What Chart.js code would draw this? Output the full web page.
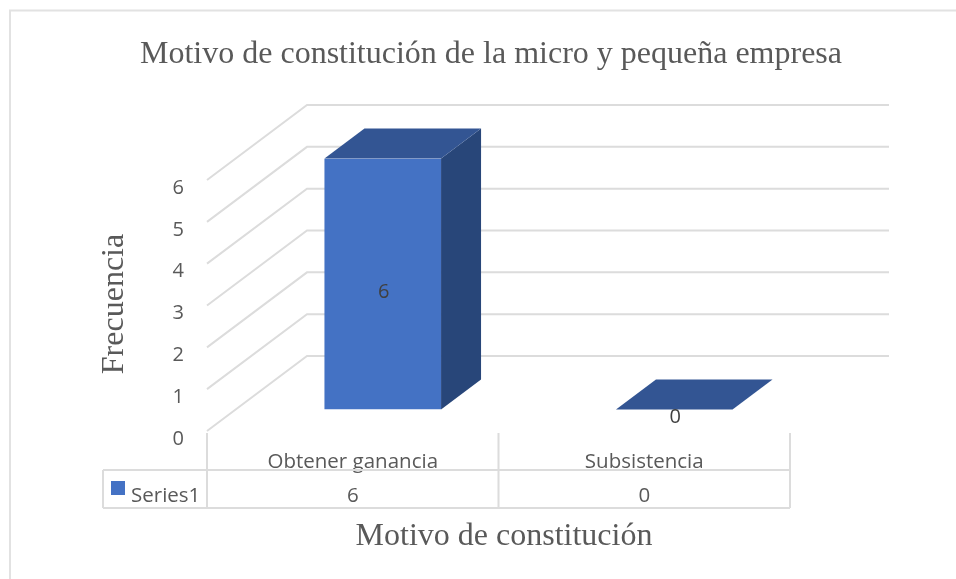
<!DOCTYPE html>
<html>
<head>
<meta charset="utf-8">
<title>Motivo de constitución</title>
<script src="https://cdn.jsdelivr.net/npm/chart.js@4"></script>
<style>
  html, body { margin: 0; padding: 0; background: #fff; }
  #wrap { width: 956px; height: 579px; }
</style>
</head>
<body>
<div id="wrap"><canvas id="chart"></canvas></div>
<script>
// datos
const categories = ['Obtener ganancia', 'Subsistencia'];
const values = [6, 0];
const seriesName = 'Series1';
const chartTitle = 'Motivo de constitución de la micro y pequeña empresa';
const xTitle = 'Motivo de constitución';
const yTitle = 'Frecuencia';

// colores
const frontColor = '#4472c4';
const topColor = '#335593';
const sideColor = '#284679';
const gridColor = '#dcdcdc';
const textColor = '#595959';

const sans = '"Open Sans", sans-serif';
const serif = '"Liberation Serif", serif';

// desplazamiento de la perspectiva
const wallLift = 8;
const wallDepth = { x: 100, y: 75 };
const barShift = { x: 30, y: 29.5 };
const barDepth = { x: 40, y: 30 };

function poly(ctx, pts, color) {
    ctx.fillStyle = color;
    ctx.beginPath();
    pts.forEach((p, i) => i ? ctx.lineTo(p[0], p[1]) : ctx.moveTo(p[0], p[1]));
    ctx.closePath();
    ctx.fill();
}

// paredes, barra 3D y tabla de datos
const fake3d = {
    id: 'fake3d',
    beforeDatasetsDraw(chart) {
        const { ctx, scales: { x, y } } = chart;
        ctx.save();

        // marco exterior
        ctx.strokeStyle = '#e2e2e2';
        ctx.lineWidth = 2;
        ctx.beginPath();
        ctx.moveTo(10, 579);
        ctx.lineTo(10, 10.5);
        ctx.lineTo(956, 10.5);
        ctx.stroke();

        // rejilla
        ctx.strokeStyle = gridColor;
        y.ticks.forEach(t => {
            const py = y.getPixelForValue(t.value) - wallLift;
            ctx.beginPath();
            ctx.moveTo(x.left, py);
            ctx.lineTo(x.left + wallDepth.x, py - wallDepth.y);
            ctx.lineTo(889, py - wallDepth.y);
            ctx.stroke();
        });

        // caras laterales y superiores
        const bars = chart.getDatasetMeta(0).data;
        bars.forEach(bar => {
            const half = bar.width / 2;
            const l = bar.x - half + barShift.x;
            const r = bar.x + half + barShift.x;
            const t = bar.y - barShift.y;
            const b = bar.base - barShift.y;
            poly(ctx, [[r, t], [r + barDepth.x, t - barDepth.y], [r + barDepth.x, b - barDepth.y], [r, b]], sideColor);
            poly(ctx, [[l, t], [l + barDepth.x, t - barDepth.y], [r + barDepth.x, t - barDepth.y], [r, t]], topColor);
        });
        ctx.restore();
    },
    beforeDatasetDraw(chart) {
        chart.ctx.save();
        chart.ctx.translate(barShift.x, -barShift.y);
    },
    afterDatasetDraw(chart) {
        chart.ctx.restore();
    },
    afterDatasetsDraw(chart) {
        const { ctx, scales: { x, y } } = chart;
        ctx.save();

        // etiquetas de datos
        ctx.fillStyle = '#404040';
        ctx.font = '20px ' + sans;
        ctx.textAlign = 'center';
        ctx.textBaseline = 'middle';
        chart.getDatasetMeta(0).data.forEach((bar, i) => {
            const mid = (bar.y + bar.base) / 2 - barShift.y + wallLift;
            ctx.fillText(String(values[i]), bar.x + barShift.x + 1, mid);
        });

        // tabla de datos
        const rowTop = 470, rowBottom = 508, tableLeft = 103;
        ctx.strokeStyle = gridColor;
        ctx.lineWidth = 2;
        ctx.beginPath();
        ctx.moveTo(tableLeft, rowTop);
        ctx.lineTo(x.right, rowTop);
        ctx.moveTo(tableLeft, rowBottom);
        ctx.lineTo(x.right, rowBottom);
        ctx.moveTo(tableLeft, rowTop);
        ctx.lineTo(tableLeft, rowBottom);
        [0, 1, 2].forEach(i => {
            const px = x.left + (x.right - x.left) * i / categories.length;
            ctx.moveTo(px, 433);
            ctx.lineTo(px, rowBottom);
        });
        ctx.stroke();

        ctx.fillStyle = frontColor;
        ctx.fillRect(111, 481, 14, 14);
        ctx.fillStyle = textColor;
        ctx.font = '20.5px ' + sans;
        ctx.textAlign = 'left';
        ctx.fillText(seriesName, 131, 496);
        ctx.textAlign = 'center';
        values.forEach((v, i) => ctx.fillText(String(v), x.getPixelForValue(i), 496));

        // títulos de los ejes
        ctx.font = '32px ' + serif;
        ctx.fillText(xTitle, 504, 537);
        ctx.translate(115, 304);
        ctx.rotate(-Math.PI / 2);
        ctx.fillText(yTitle, 0, 0);
        ctx.restore();
    }
};

new Chart(document.getElementById('chart'), {
    type: 'bar',
    data: {
        labels: categories,
        datasets: [{
            label: seriesName,
            data: values,
            backgroundColor: frontColor,
            borderWidth: 0,
            barPercentage: 0.4,
            categoryPercentage: 1
        }]
    },
    options: {
        responsive: true,
        maintainAspectRatio: false,
        animation: false,
        layout: { padding: { left: 26, right: 0, top: 0, bottom: 100 } },
        plugins: {
            legend: { display: false },
            tooltip: { enabled: false },
            title: {
                display: true,
                text: chartTitle,
                color: textColor,
                font: { family: serif, size: 32, weight: 'normal' },
                padding: { top: 35, bottom: 114.6 }
            }
        },
        scales: {
            x: {
                afterFit(scale) { scale.height = 40; },
                grid: { display: false },
                border: { display: false },
                ticks: { color: textColor, font: { family: sans, size: 20.5 }, padding: 3, maxRotation: 0 }
            },
            y: {
                min: 0,
                max: 6,
                afterFit(scale) { scale.width = 181; },
                grid: { display: false },
                border: { display: false },
                ticks: { stepSize: 1, color: textColor, font: { family: sans, size: 20 }, padding: 15 }
            },
            // hueco a la derecha del área de trazado
            spacer: {
                position: 'right',
                afterFit(scale) { scale.width = 166; },
                grid: { display: false },
                border: { display: false },
                ticks: { display: false }
            }
        }
    },
    plugins: [fake3d]
});
</script>
</body>
</html>
